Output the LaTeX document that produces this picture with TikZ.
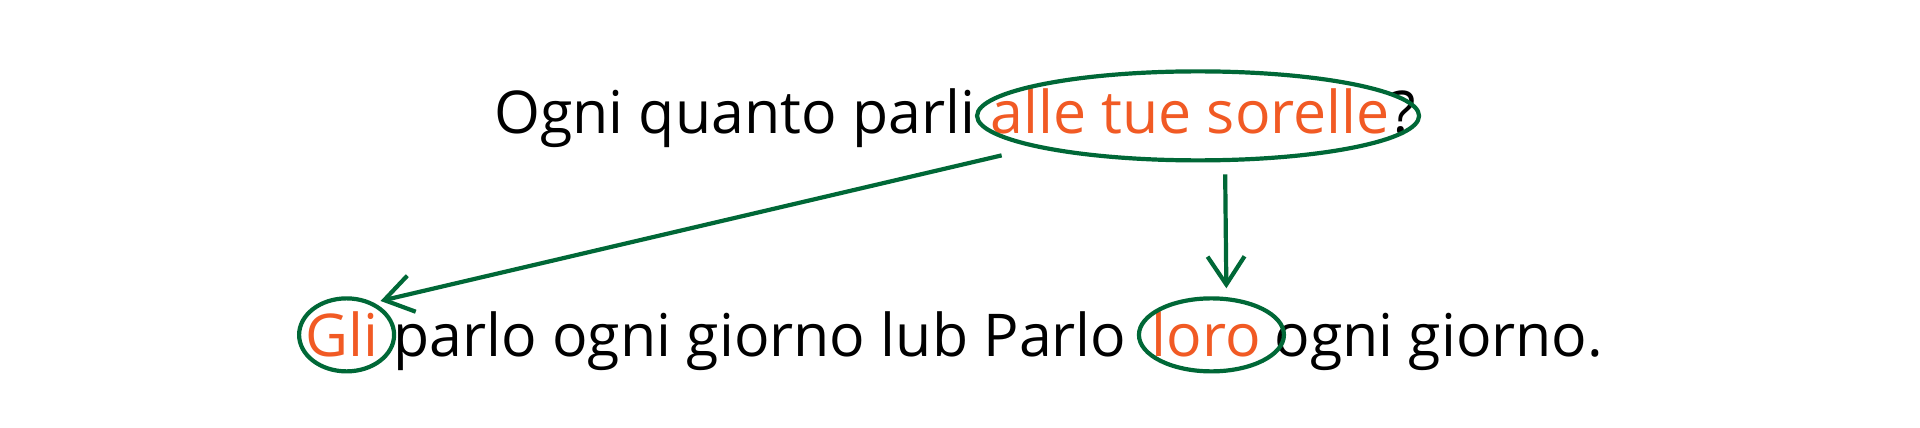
\documentclass[tikz,border=0pt]{standalone}
\usepackage{fontspec}
\setmainfont{Open Sans}
\usetikzlibrary{positioning,arrows.meta,shapes.geometric}

\definecolor{ringgreen}{RGB}{0,104,55}
\definecolor{wordorange}{RGB}{241,90,36}

\tikzset{
  word/.style={inner sep=0pt, font=\fontsize{59}{64}\selectfont},
  keyword/.style={word, text=wordorange},
  ring/.style={ellipse, draw=ringgreen, line width=4.2pt, inner sep=0pt},
  pointer/.style={draw=ringgreen, line width=4.2pt,
    -{Straight Barb[length=28pt,width=37pt,line width=4.2pt]}}
}

\begin{document}
\begin{tikzpicture}[x=1pt,y=-1pt,node distance=15pt]
  \useasboundingbox[fill=white] (0,0) rectangle (1920,428);

  % question line
  \node[word,anchor=base west] (ask) at (494,133) {Ogni quanto parli};
  \node[keyword,base right=of ask] (sisters) {alle tue sorelle};
  \node[word,base right=0pt of sisters] (qmark) {?};

  % answer line
  \node[keyword,anchor=base west] (gli) at (305,356) {Gli};
  \node[word,base right=of gli] (mid) {parlo ogni giorno lub Parlo};
  \node[keyword,base right=25pt of mid] (loro) {loro};
  \node[word,base right=13pt of loro] (tail) {ogni giorno.};

  % rings
  \node[ring,minimum width=442pt,minimum height=89pt] (ringS)
    at ([xshift=8pt,yshift=-5pt]sisters.center) {};
  \node[ring,minimum width=95pt,minimum height=73pt] (ringG)
    at ([xshift=5pt,yshift=-1pt]gli.center) {};
  \node[ring,minimum width=145pt,minimum height=73pt] (ringL)
    at ([xshift=5pt,yshift=-1pt]loro.center) {};

  % arrows
  \draw[pointer,shorten <=34pt,shorten >=7pt] (ringS.191) -- (ringG.50);
  \draw[pointer,shorten <=12pt,shorten >=8pt]
    ([xshift=27pt]ringS.south) -- ([xshift=15pt]ringL.north);
\end{tikzpicture}
\end{document}
